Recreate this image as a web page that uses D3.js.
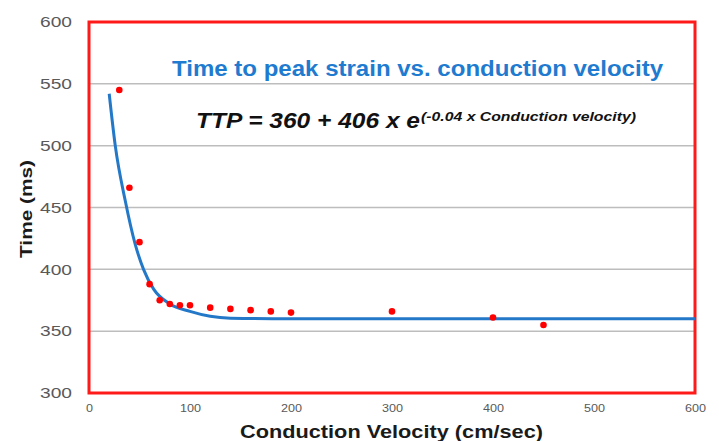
<!DOCTYPE html>
<html>
<head>
<meta charset="utf-8">
<script src="https://cdn.jsdelivr.net/npm/d3@7"></script>
<style>
  body { margin: 0; background: #fff; }
  svg { display: block; font-family: Arial, "Liberation Sans", sans-serif; }
</style>
</head>
<body>
<svg id="chart" width="719" height="441"></svg>
<script>
// Data
const velocities = [30, 40, 50, 60, 70, 80, 90, 100, 120, 140, 160, 180, 200, 300, 400, 450];
const times      = [545, 466, 422, 388, 375, 372, 371, 371, 369, 368, 367, 366, 365, 366, 361, 355];
const fitX = [20, 26, 36, 45.5, 54, 64, 80, 100, 120, 140, 200, 300, 400, 500, 600];
const fitY = [542, 500, 455, 421, 400, 384, 372, 366, 362, 360.5, 360, 360, 360, 360, 360];
const xTicks = [0, 100, 200, 300, 400, 500, 600];
const yTicks = [300, 350, 400, 450, 500, 550, 600];

const svg = d3.select("#chart");
const mLeft = 89, mRight = 695, mTop = 22, mBottom = 393;

const x = d3.scaleLinear().domain([0, 600]).range([mLeft, mRight]);
const y = d3.scaleLinear().domain([300, 600]).range([mBottom, mTop]);

// gridlines
svg.append("g").selectAll("line").data(yTicks.filter(d => d > 300 && d < 600)).join("line")
  .attr("x1", mLeft).attr("x2", mRight)
  .attr("y1", d => y(d)).attr("y2", d => y(d))
  .attr("stroke", "#bdbdbd").attr("stroke-width", 1.5);

// y axis tick labels
const yAxis = d3.axisLeft(y).tickValues(yTicks).tickSize(0).tickPadding(17);
const gy = svg.append("g").attr("transform", `translate(${mLeft},0)`).call(yAxis);
gy.select(".domain").remove();
gy.selectAll("text").attr("font-size", 15).attr("fill", "#595959")
  .attr("font-family", "Arial, 'Liberation Sans', sans-serif")
  .attr("textLength", 32).attr("lengthAdjust", "spacingAndGlyphs");

// x axis tick labels
const xAxis = d3.axisBottom(x).tickValues(xTicks).tickSize(0).tickPadding(11);
const gx = svg.append("g").attr("transform", `translate(0,${mBottom})`).call(xAxis);
gx.select(".domain").remove();
gx.selectAll("text").attr("font-size", 11.5).attr("fill", "#595959")
  .attr("font-family", "Arial, 'Liberation Sans', sans-serif")
  .attr("textLength", d => d === 0 ? 7 : 21).attr("lengthAdjust", "spacingAndGlyphs");

// red frame
svg.append("rect")
  .attr("x", mLeft).attr("y", mTop)
  .attr("width", mRight - mLeft).attr("height", mBottom - mTop)
  .attr("fill", "none").attr("stroke", "#ff1a1a").attr("stroke-width", 3);

// fitted curve
const line = d3.line().x((d, i) => x(fitX[i])).y((d, i) => y(fitY[i])).curve(d3.curveMonotoneX);
svg.append("path").datum(fitY)
  .attr("d", line)
  .attr("fill", "none").attr("stroke", "#2478c8").attr("stroke-width", 3);

// points
svg.append("g").selectAll("circle").data(velocities).join("circle")
  .attr("cx", d => x(d))
  .attr("cy", (d, i) => y(times[i]))
  .attr("r", 3.3)
  .attr("fill", "#ff0000");

// title
svg.append("text")
  .attr("x", 172).attr("y", 76)
  .attr("font-size", 22).attr("font-weight", "bold")
  .attr("fill", "#1f7bd0")
  .attr("textLength", 491).attr("lengthAdjust", "spacingAndGlyphs")
  .text("Time to peak strain vs. conduction velocity");

// equation
svg.append("text")
  .attr("x", 196).attr("y", 128)
  .attr("font-size", 21.5).attr("font-weight", "bold").attr("font-style", "italic")
  .attr("fill", "#111")
  .attr("textLength", 224).attr("lengthAdjust", "spacingAndGlyphs")
  .text("TTP = 360 + 406 x e");
svg.append("text")
  .attr("x", 421).attr("y", 121)
  .attr("font-size", 12.5).attr("font-weight", "bold").attr("font-style", "italic")
  .attr("fill", "#111")
  .attr("textLength", 215).attr("lengthAdjust", "spacingAndGlyphs")
  .text("(-0.04 x Conduction velocity)");

// axis titles
svg.append("text")
  .attr("x", 240).attr("y", 438)
  .attr("font-size", 18).attr("font-weight", "bold").attr("fill", "#1a1a1a")
  .attr("textLength", 303).attr("lengthAdjust", "spacingAndGlyphs")
  .text("Conduction Velocity (cm/sec)");

svg.append("text")
  .attr("transform", "translate(32,258) rotate(-90)")
  .attr("font-size", 17).attr("font-weight", "bold").attr("fill", "#1a1a1a")
  .attr("textLength", 98).attr("lengthAdjust", "spacingAndGlyphs")
  .text("Time (ms)");
</script>
</body>
</html>
